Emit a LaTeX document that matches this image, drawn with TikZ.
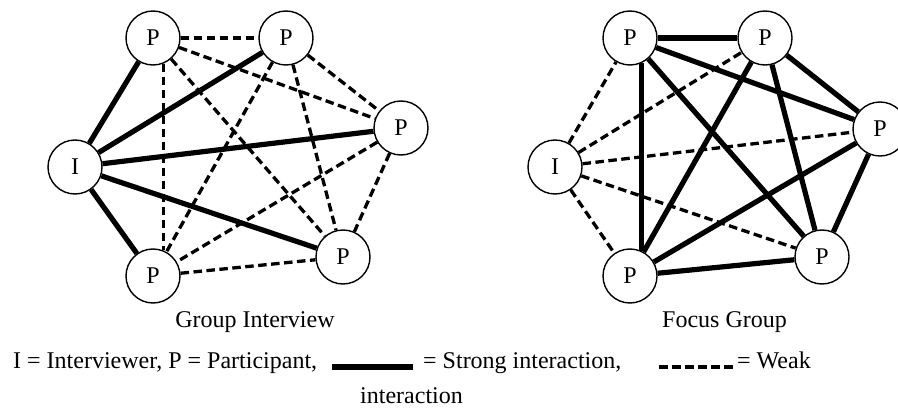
\documentclass[tikz,border=0pt]{standalone}
\usepackage{fontspec}
\setmainfont{Liberation Serif}
\begin{document}
\begin{tikzpicture}[x=1pt,y=-1pt,
  pnode/.style={circle,draw,line width=1.4pt,minimum size=54pt,inner sep=0pt,fill=white,font=\fontsize{24}{28}\selectfont},
  txt/.style={inner sep=0pt,font=\fontsize{24}{28}\selectfont},
  strong/.style={line width=5.2pt},
  weak/.style={line width=3.3pt,dash pattern=on 8.5pt off 4.5pt}]
\useasboundingbox (0,0) rectangle (898,412);
% ---------- Group Interview ----------
\node[pnode] (aI)  at (75,167)  {I};
\node[pnode] (aTL) at (153,38)  {P};
\node[pnode] (aTR) at (286,38)  {P};
\node[pnode] (aR)  at (401,128) {P};
\node[pnode] (aBR) at (343,257) {P};
\node[pnode] (aBL) at (153,276) {P};
\foreach \t in {aTL,aTR,aR,aBR,aBL}{\draw[strong] (aI) -- (\t);}
\draw[weak] (aTL) -- (aTR);
\draw[weak] (aTL.-68) -- (aBL.68);
\draw[weak] (aTL) -- (aR);
\draw[weak] (aTL) -- (aBR);
\draw[weak] (aTR) -- (aR);
\draw[weak] (aTR) -- (aBL);
\draw[weak] (aTR) -- (aBR);
\draw[weak] (aR) -- (aBL);
\draw[weak] (aR) -- (aBR);
\draw[weak] (aBL) -- (aBR);
% ---------- Focus Group ----------
\node[pnode] (bI)  at (555,167) {I};
\node[pnode] (bTL) at (630,38)  {P};
\node[pnode] (bTR) at (765,38)  {P};
\node[pnode] (bR)  at (880,129) {P};
\node[pnode] (bBR) at (822,257) {P};
\node[pnode] (bBL) at (630,276) {P};
\foreach \t in {bTL,bTR,bR,bBR,bBL}{\draw[weak] (bI) -- (\t);}
\draw[strong] (bTL) -- (bTR);
\draw[strong] (bTL.-66) -- (bBL.66);
\draw[strong] (bTL) -- (bR);
\draw[strong] (bTL) -- (bBR);
\draw[strong] (bTR) -- (bR);
\draw[strong] (bTR) -- (bBL);
\draw[strong] (bTR) -- (bBR);
\draw[strong] (bR) -- (bBL);
\draw[strong] (bR) -- (bBR);
\draw[strong] (bBL) -- (bBR);
% ---------- captions ----------
\node[txt,anchor=base] (capA) at (255,327) {Group Interview};
\node[txt,anchor=base] (capB) at (724.5,327) {Focus Group};
% ---------- legend ----------
\node[txt,anchor=base west] (l1) at (13,368) {I = Interviewer, P = Participant,};
\coordinate (s1) at (332,367);
\coordinate (s2) at (413,367);
\draw[strong] (s1) -- (s2);
\node[txt,anchor=base west] (l2) at (423,368) {= Strong interaction,};
\coordinate (w1) at (659,367);
\coordinate (w2) at (736,367);
\draw[weak] (w1) -- (w2);
\node[txt,anchor=base west] (l3) at (737,368) {= Weak};
\node[txt,anchor=base west] (l4) at (360,403) {interaction};
\end{tikzpicture}
\end{document}
